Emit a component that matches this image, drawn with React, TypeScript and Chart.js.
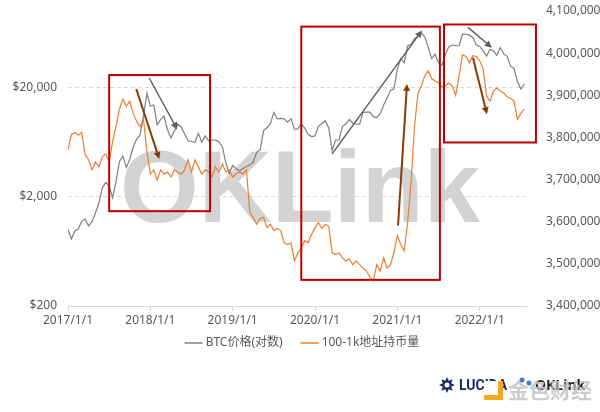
import { useEffect, useRef } from "react";
import { Chart, registerables } from "chart.js";

Chart.register(...registerables);

// ---- data (semi-monthly samples, starting 2017/1/1; x = months since 2017/1/1) ----
const monthStep = 0.5;
const xTickMonths = [0, 12, 24, 36, 48, 60];
const xTickLabels = ["2017/1/1", "2018/1/1", "2019/1/1", "2020/1/1", "2021/1/1", "2022/1/1"];
const leftTicks = [200, 2000, 20000];

const btcPrice = [
  // 2017
  1000, 820, 970, 1010, 1190, 1250, 1080, 1180, 1420, 1750, 2400, 2700, 2500, 1950, 2750, 4200, 4700, 3700, 4400, 5700, 6700, 7300, 10900, 17600,
  // 2018
  13500, 13800, 9100, 10200, 10900, 8200, 6900, 8000, 9200, 8700, 7500, 6500, 6400, 6300, 7600, 6300, 7200, 6500, 6600, 6600, 6350, 5700, 4100, 3250,
  // 2019
  3850, 3600, 3450, 3600, 3800, 3900, 4150, 5100, 5350, 8000, 8550, 9300, 11800, 10300, 10400, 10300, 9600, 10300, 8300, 8350, 9250, 8500, 7400, 7100,
  // 2020
  7200, 8800, 9400, 9900, 8500, 5300, 6600, 6600, 8800, 9300, 10200, 9400, 9200, 9200, 11800, 11900, 11900, 10800, 10600, 11500, 13800, 16000, 18800, 19400,
  // 2021
  29300, 36800, 33500, 48000, 49600, 55700, 58900, 63100, 57800, 46500, 36700, 40200, 33500, 31800, 39900, 47000, 48800, 48100, 48100, 61600, 61300, 60100, 57200, 48900,
  // 2022
  47700, 43100, 38700, 44500, 43200, 39300, 46300, 40500, 38500, 31300, 29800, 22500, 19300, 21500,
];

const holdings100to1k = [
  // 2017
  3771000, 3807000, 3812000, 3805000, 3812000, 3759000, 3747000, 3723000, 3742000, 3730000, 3754000, 3761000,
  3742000, 3790000, 3826000, 3867000, 3891000, 3874000, 3886000, 3857000, 3838000, 3826000, 3843000, 3766000,
  // 2018
  3713000, 3723000, 3699000, 3723000, 3713000, 3718000, 3706000, 3723000, 3718000, 3713000, 3723000, 3747000,
  3718000, 3747000, 3730000, 3713000, 3723000, 3718000, 3706000, 3730000, 3718000, 3737000, 3718000, 3723000,
  // 2019
  3706000, 3713000, 3718000, 3713000, 3723000, 3622000, 3610000, 3594000, 3608000, 3610000, 3586000, 3594000,
  3579000, 3584000, 3579000, 3550000, 3546000, 3550000, 3507000, 3526000, 3538000, 3555000, 3550000, 3570000,
  // 2020
  3586000, 3598000, 3584000, 3594000, 3589000, 3526000, 3522000, 3526000, 3514000, 3507000, 3512000, 3498000,
  3507000, 3498000, 3490000, 3483000, 3469000, 3460000, 3498000, 3483000, 3514000, 3490000, 3498000, 3526000,
  // 2021
  3567000, 3546000, 3531000, 3598000, 3694000, 3826000, 3905000, 3922000, 3946000, 3958000, 3939000, 3934000,
  3929000, 3920000, 3922000, 3929000, 3922000, 3900000, 3946000, 3996000, 3992000, 3977000, 3994000, 3992000,
  // 2022
  3982000, 3963000, 3898000, 3886000, 3910000, 3917000, 3910000, 3905000, 3896000, 3893000, 3886000, 3843000, 3857000, 3867000,
];

// annotations in data units (x: months since 2017/1/1, y: right-axis value)
const highlightBoxes = [
  { x0: 6.0, x1: 20.7, yTop: 3948000, yBottom: 3625000 },
  { x0: 34.0, x1: 54.2, yTop: 4063000, yBottom: 3462000 },
  { x0: 54.8, x1: 68.2, yTop: 4068000, yBottom: 3788000 },
];
const grayArrows = [
  { x0: 11.84, y0: 3941000, x1: 15.92, y1: 3819000 },
  { x0: 38.49, y0: 3761000, x1: 51.6, y1: 4054000 },
  { x0: 58.29, y0: 4061000, x1: 61.78, y1: 4013000 },
];
const brownArrows = [
  { x0: 9.95, y0: 3915000, x1: 13.3, y1: 3749000 },
  { x0: 48.1, y0: 3591000, x1: 49.41, y1: 3927000 },
  { x0: 59.02, y0: 3989000, x1: 61.06, y1: 3855000 },
];

const seriesNames = ["BTC价格(对数)", "100-1k地址持币量"];
const GRAY = "#7f7f7f";
const ORANGE = "#ED7D31";
const TEXT = "#595959";
const FONT = "'Noto Sans', 'Noto Sans CJK SC', sans-serif";

function drawArrow(ctx: CanvasRenderingContext2D, x0: number, y0: number, x1: number, y1: number, color: string, width: number) {
  const ang = Math.atan2(y1 - y0, x1 - x0);
  const head = 7;
  const hw = 3.5;
  ctx.save();
  ctx.strokeStyle = color;
  ctx.fillStyle = color;
  ctx.lineWidth = width;
  ctx.beginPath();
  ctx.moveTo(x0, y0);
  ctx.lineTo(x1 - Math.cos(ang) * head * 0.8, y1 - Math.sin(ang) * head * 0.8);
  ctx.stroke();
  ctx.beginPath();
  ctx.moveTo(x1, y1);
  ctx.lineTo(x1 - Math.cos(ang) * head + Math.sin(ang) * hw, y1 - Math.sin(ang) * head - Math.cos(ang) * hw);
  ctx.lineTo(x1 - Math.cos(ang) * head - Math.sin(ang) * hw, y1 - Math.sin(ang) * head + Math.cos(ang) * hw);
  ctx.closePath();
  ctx.fill();
  ctx.restore();
}

const decorPlugin = {
  id: "decor",
  beforeDatasetsDraw(chart: any) {
    const { ctx, chartArea } = chart;
    ctx.save();
    const fam = `'Liberation Sans', Arial, sans-serif`;
    ctx.font = `bold 100px ${fam}`;
    const w = ctx.measureText("OKLink").width;
    const size = (100 * 360) / w;
    ctx.font = `bold ${size}px ${fam}`;
    ctx.fillStyle = "#d3d3d3";
    ctx.textAlign = "center";
    ctx.textBaseline = "alphabetic";
    ctx.fillText("OKLink", (chartArea.left + chartArea.right) / 2 + 3, 222);
    ctx.restore();
  },
  afterDatasetsDraw(chart: any) {
    const { ctx } = chart;
    const sx = chart.scales.x;
    const sy = chart.scales.yR;
    ctx.save();
    ctx.strokeStyle = "#C00000";
    ctx.lineWidth = 2;
    for (const b of highlightBoxes) {
      const l = sx.getPixelForValue(b.x0);
      const r = sx.getPixelForValue(b.x1);
      const t = sy.getPixelForValue(b.yTop);
      const btm = sy.getPixelForValue(b.yBottom);
      ctx.strokeRect(l, t, r - l, btm - t);
    }
    ctx.restore();
    for (const a of grayArrows) {
      drawArrow(ctx, sx.getPixelForValue(a.x0), sy.getPixelForValue(a.y0), sx.getPixelForValue(a.x1), sy.getPixelForValue(a.y1), "#5f5f5f", 1.5);
    }
    for (const a of brownArrows) {
      drawArrow(ctx, sx.getPixelForValue(a.x0), sy.getPixelForValue(a.y0), sx.getPixelForValue(a.x1), sy.getPixelForValue(a.y1), "#843C0C", 2);
    }
  },
  afterDraw(chart: any) {
    const { ctx, width } = chart;
    // legend
    ctx.save();
    ctx.font = `12px ${FONT}`;
    ctx.textBaseline = "middle";
    const lineLen = 18;
    const gap = 3;
    const between = 18;
    const w0 = ctx.measureText(seriesNames[0]).width;
    const w1 = ctx.measureText(seriesNames[1]).width;
    const total = lineLen + gap + w0 + between + lineLen + gap + w1;
    let x = width / 2 + 2 - total / 2;
    const y = 343;
    const colors = [GRAY, ORANGE];
    const widths = [w0, w1];
    for (let i = 0; i < 2; i++) {
      ctx.strokeStyle = colors[i];
      ctx.lineWidth = 1.5;
      ctx.beginPath();
      ctx.moveTo(x, y);
      ctx.lineTo(x + lineLen, y);
      ctx.stroke();
      x += lineLen + gap;
      ctx.fillStyle = TEXT;
      ctx.textAlign = "left";
      ctx.fillText(seriesNames[i], x, y);
      x += widths[i] + between;
    }
    // logos (bottom right)
    ctx.fillStyle = "#1b2a6b";
    ctx.beginPath();
    const cx = 447, cy = 385;
    for (let k = 0; k < 16; k++) {
      const r = k % 2 === 0 ? 8 : 4.5;
      const ang = (Math.PI * 2 * k) / 16;
      const px = cx + Math.cos(ang) * r;
      const py = cy + Math.sin(ang) * r;
      if (k === 0) ctx.moveTo(px, py);
      else ctx.lineTo(px, py);
    }
    ctx.closePath();
    ctx.fill();
    ctx.fillStyle = "#ffffff";
    ctx.beginPath();
    ctx.arc(cx, cy, 2.5, 0, Math.PI * 2);
    ctx.fill();
    ctx.fillStyle = "#1b2a6b";
    ctx.font = `bold 14px 'Liberation Sans Narrow', 'Roboto', sans-serif`;
    ctx.textAlign = "left";
    ctx.fillText("LUCIDA", 459, 386);
    ctx.fillStyle = "#3a7bd5";
    ctx.beginPath();
    ctx.arc(522, 380, 2.5, 0, Math.PI * 2);
    ctx.arc(529, 383, 2.5, 0, Math.PI * 2);
    ctx.fill();
    ctx.fillStyle = "#222222";
    ctx.font = `bold 14px 'Noto Sans', sans-serif`;
    ctx.fillText("OKLink", 535, 386);
    ctx.fillStyle = "#F5A623";
    ctx.fillRect(484, 381, 19, 19);
    ctx.fillStyle = "#ffffff";
    ctx.fillRect(484, 381, 14, 14);
    ctx.fillStyle = "rgba(195,195,195,0.85)";
    ctx.font = `bold 21px 'Noto Sans CJK SC', sans-serif`;
    ctx.fillText("金色财经", 508, 390);
    ctx.restore();
  },
};

export default function App() {
  const ref = useRef<HTMLCanvasElement | null>(null);
  useEffect(() => {
    if (!ref.current) return;
    const btcPoints = btcPrice.map((v, i) => ({ x: i * monthStep, y: v }));
    const holdPoints = holdings100to1k.map((v, i) => ({ x: i * monthStep, y: v }));
    const chart = new Chart(ref.current, {
      type: "line",
      data: {
        datasets: [
          {
            label: seriesNames[0],
            data: btcPoints,
            yAxisID: "yL",
            borderColor: GRAY,
            borderWidth: 1.2,
            pointRadius: 0,
            tension: 0,
            order: 1,
          },
          {
            label: seriesNames[1],
            data: holdPoints,
            yAxisID: "yR",
            borderColor: ORANGE,
            borderWidth: 1.2,
            pointRadius: 0,
            tension: 0,
            order: 0,
          },
        ],
      },
      options: {
        responsive: false,
        animation: false,
        devicePixelRatio: 1,
        layout: { padding: { top: 11, bottom: 76, left: 0, right: 0 } },
        plugins: { legend: { display: false }, tooltip: { enabled: false } },
        scales: {
          x: {
            type: "linear",
            min: 0,
            max: 66.75,
            afterBuildTicks: (s: any) => {
              s.ticks = xTickMonths.map((v) => ({ value: v }));
            },
            afterFit: (s: any) => {
              s.height = 30;
            },
            ticks: {
              autoSkip: false,
              maxRotation: 0,
              padding: 2,
              color: TEXT,
              font: { size: 12, family: FONT },
              callback: (v: any) => xTickLabels[xTickMonths.indexOf(Number(v))] ?? "",
            },
            grid: { drawOnChartArea: false, drawTicks: true, tickLength: 5, color: "#d9d9d9" },
            border: { display: true, color: "#d9d9d9" },
          },
          yL: {
            type: "logarithmic",
            position: "left",
            min: 200,
            max: 100000,
            afterBuildTicks: (s: any) => {
              s.ticks = leftTicks.map((v) => ({ value: v }));
            },
            afterFit: (s: any) => {
              s.width = 68;
              s.paddingTop = 0;
              s.paddingBottom = 0;
            },
            ticks: {
              padding: 11,
              color: TEXT,
              font: { size: 12, family: FONT },
              callback: (v: any) => "$" + Number(v).toLocaleString("en-US"),
            },
            grid: { color: "#d9d9d9", drawTicks: false, lineWidth: 1 },
            border: { display: false, dash: [4, 3] },
          },
          yR: {
            type: "linear",
            position: "right",
            min: 3400000,
            max: 4100000,
            afterFit: (s: any) => {
              s.width = 74;
              s.paddingTop = 0;
              s.paddingBottom = 0;
            },
            ticks: {
              stepSize: 100000,
              padding: 12,
              color: TEXT,
              font: { size: 12, family: FONT },
              callback: (v: any) => Number(v).toLocaleString("en-US"),
            },
            grid: { display: false },
            border: { display: false },
          },
        },
      },
      plugins: [decorPlugin],
    });
    return () => chart.destroy();
  }, []);
  return (
    <div style={{ position: "absolute", left: 0, top: 0, width: 600, height: 412, background: "#ffffff" }}>
      <canvas ref={ref} width={600} height={412} />
    </div>
  );
}
